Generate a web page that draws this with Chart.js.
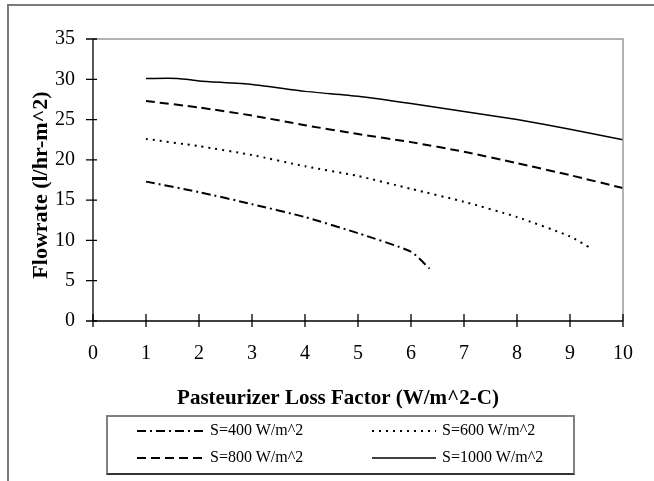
<!DOCTYPE html>
<html>
<head>
<meta charset="utf-8">
<script src="https://cdn.jsdelivr.net/npm/chart.js@4.4.1/dist/chart.umd.min.js"></script>
<style>
  body { margin: 0; background: #fff; overflow: hidden; }
  #wrap { position: relative; width: 654px; height: 481px; }
  #frame { position: absolute; left: 7px; top: 4px; width: 660px; height: 490px;
           border-left: 2px solid #7a7a7a; border-top: 2px solid #7a7a7a; }
  #legend { position: absolute; left: 106px; top: 415px; width: 465px; height: 56px;
            border: 2px solid #808080; border-bottom-color: #333; }
  .item { position: absolute; font-family: "Liberation Serif", "Times New Roman", serif;
          font-size: 16px; color: #000; white-space: nowrap; }
  .item svg { position: absolute; left: 0; top: 0; }
  .item span { position: absolute; top: -10px; }
</style>
</head>
<body>
<div id="wrap">
  <div id="frame"></div>
  <canvas id="chart"></canvas>
  <div id="legend"></div>
</div>
<script>
// 데이터
const seriesLabels = ['S=400 W/m^2', 'S=600 W/m^2', 'S=800 W/m^2', 'S=1000 W/m^2'];

const x400 = [1, 2, 3, 4, 5, 6, 6.35];
const y400 = [17.3, 16.0, 14.5, 12.9, 10.9, 8.6, 6.5];

const x600 = [1, 2, 3, 4, 5, 6, 7, 8, 9, 9.4];
const y600 = [22.6, 21.7, 20.6, 19.2, 18.0, 16.4, 14.8, 12.9, 10.5, 9.0];

const x800 = [1, 2, 3, 4, 5, 6, 7, 8, 9, 10];
const y800 = [27.3, 26.5, 25.5, 24.3, 23.2, 22.2, 21.0, 19.6, 18.1, 16.5];

const x1000 = [1, 1.6, 2, 3, 4, 5, 6, 7, 8, 9, 10];
const y1000 = [30.1, 30.1, 29.8, 29.35, 28.5, 27.9, 27.0, 26.0, 25.0, 23.8, 22.5];

const xTitle = 'Pasteurizer Loss Factor (W/m^2-C)';
const yTitle = 'Flowrate (l/hr-m^2)';

// 선 스타일
const dashes = [[9, 4, 2, 4], [2, 5], [9, 5], []];
const widths = [2, 2, 2, 1.5];

function toPoints(xs, ys) {
  return xs.map((x, i) => ({ x: x, y: ys[i] }));
}

const seriesData = [toPoints(x400, y400), toPoints(x600, y600), toPoints(x800, y800), toPoints(x1000, y1000)];

const serif = '"Liberation Serif", "Times New Roman", serif';

// 축, 눈금, 제목 그리기
const axesPlugin = {
  id: 'axesPlugin',
  afterDraw(chart) {
    const ctx = chart.ctx;
    const a = chart.chartArea;
    const xs = chart.scales.x, ys = chart.scales.y;
    ctx.save();
    // 회색 테두리 (위, 오른쪽)
    ctx.strokeStyle = '#9a9a9a';
    ctx.lineWidth = 1.5;
    ctx.beginPath();
    ctx.moveTo(a.left, a.top);
    ctx.lineTo(a.right, a.top);
    ctx.lineTo(a.right, a.bottom);
    ctx.stroke();
    // 검은 축
    ctx.strokeStyle = '#000';
    ctx.lineWidth = 1.3;
    ctx.beginPath();
    ctx.moveTo(a.left, a.top);
    ctx.lineTo(a.left, a.bottom);
    ctx.lineTo(a.right, a.bottom);
    ctx.stroke();
    // 축을 가로지르는 눈금
    ctx.beginPath();
    xs.ticks.forEach(t => {
      const px = xs.getPixelForValue(t.value);
      ctx.moveTo(px, a.bottom - 7);
      ctx.lineTo(px, a.bottom + 6);
    });
    ys.ticks.forEach(t => {
      const py = ys.getPixelForValue(t.value);
      ctx.moveTo(a.left - 7, py);
      ctx.lineTo(a.left + 4, py);
    });
    ctx.stroke();
    // 축 제목
    ctx.fillStyle = '#000';
    ctx.font = 'bold 21px ' + serif;
    ctx.textAlign = 'center';
    ctx.textBaseline = 'alphabetic';
    ctx.fillText(xTitle, 338, 404);
    ctx.font = 'bold 22px ' + serif;
    ctx.translate(47, 185);
    ctx.rotate(-Math.PI / 2);
    ctx.fillText(yTitle, 0, 0);
    ctx.restore();
  }
};

const ctx = document.getElementById('chart').getContext('2d');
const chart = new Chart(ctx, {
  type: 'scatter',
  data: {
    datasets: seriesData.map((pts, i) => ({
      label: seriesLabels[i],
      data: pts,
      showLine: true,
      borderColor: '#000',
      backgroundColor: '#000',
      borderWidth: widths[i],
      borderDash: dashes[i],
      pointRadius: 0,
      tension: 0.2
    }))
  },
  options: {
    responsive: true,
    maintainAspectRatio: false,
    animation: false,
    layout: { padding: { left: 0, top: 39, right: 31, bottom: 0 } },
    plugins: {
      legend: { display: false },
      tooltip: { enabled: false }
    },
    scales: {
      x: {
        type: 'linear',
        min: 0,
        max: 10,
        grid: { display: false, drawTicks: false },
        border: { display: false },
        ticks: { stepSize: 1, padding: 21, color: '#000', font: { family: serif, size: 20 }, maxRotation: 0 },
        afterFit(scale) { scale.height = 160; }
      },
      y: {
        min: 0,
        max: 35,
        grid: { display: false, drawTicks: false },
        border: { display: false },
        ticks: { stepSize: 5, padding: 18, color: '#000', font: { family: serif, size: 20 } },
        afterFit(scale) { scale.width = 93; }
      }
    }
  },
  plugins: [axesPlugin]
});

// 범례 (2열)
const legendBox = document.getElementById('legend');
const slots = [
  { lineX: 29, textX: 102, y: 14 },
  { lineX: 264, textX: 334, y: 14 },
  { lineX: 29, textX: 102, y: 41 },
  { lineX: 264, textX: 334, y: 41 }
];
seriesLabels.forEach((label, i) => {
  const s = slots[i];
  const item = document.createElement('div');
  item.className = 'item';
  item.style.left = s.lineX + 'px';
  item.style.top = s.y + 'px';
  const len = s.textX - s.lineX - 6;
  item.innerHTML =
    '<svg width="' + len + '" height="4" style="top:-2px">' +
    '<line x1="0" y1="2" x2="' + len + '" y2="2" stroke="#000" stroke-width="' + widths[i] +
    '" stroke-dasharray="' + (dashes[i].length ? dashes[i].join(',') : 'none') + '"/></svg>' +
    '<span style="left:' + (s.textX - s.lineX) + 'px">' + label + '</span>';
  legendBox.appendChild(item);
});
</script>
</body>
</html>
